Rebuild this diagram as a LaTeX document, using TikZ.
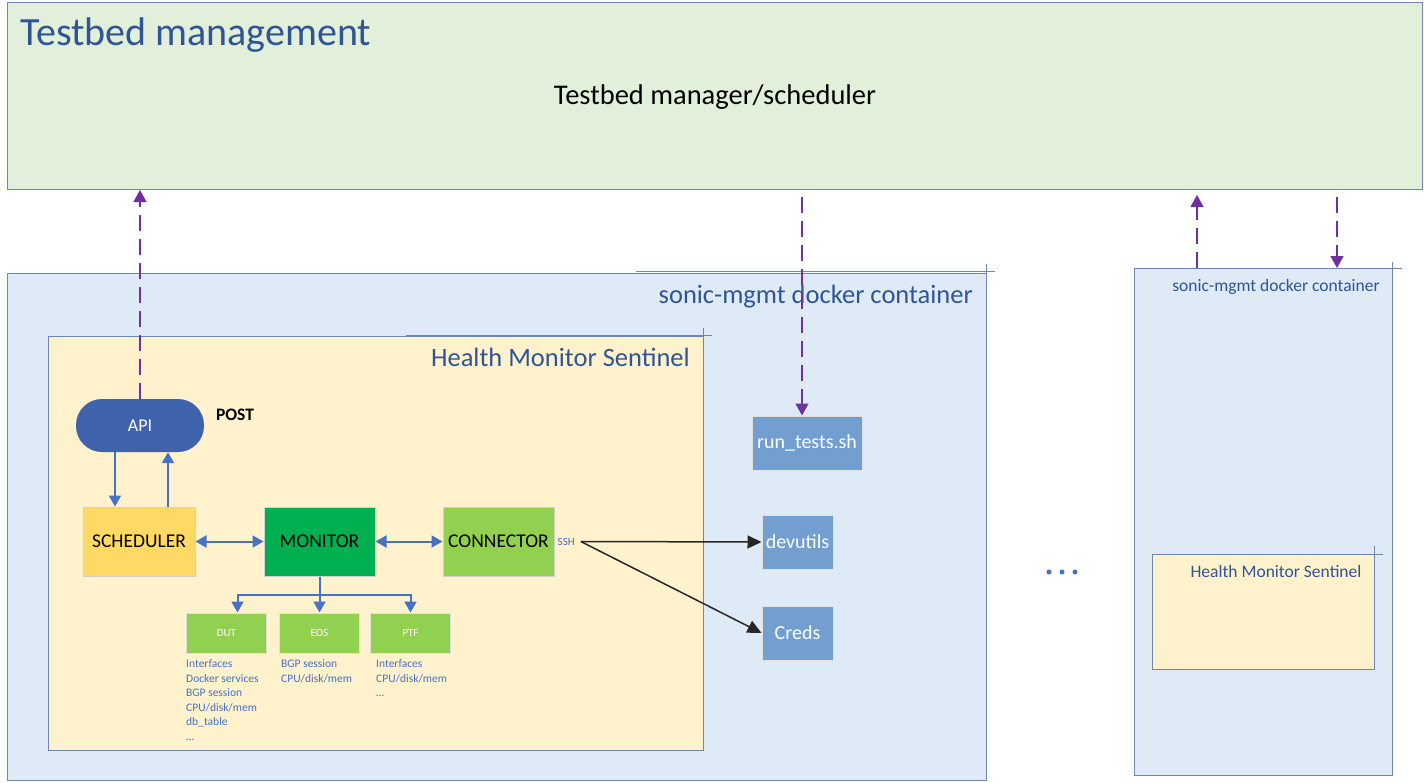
\documentclass[tikz,border=0pt]{standalone}
\usepackage{fontspec}
\setmainfont{Carlito}
\usepackage{tikz}
\usetikzlibrary{positioning,arrows.meta}
\usepackage{xcolor}
\definecolor{tbgreen}{HTML}{E2EFDA}
\definecolor{boxblue}{HTML}{DEEBF7}
\definecolor{hmsyellow}{HTML}{FFF2CC}
\definecolor{framecol}{HTML}{7086B2}
\definecolor{titleblue}{HTML}{2F5597}
\definecolor{apiblue}{HTML}{3E62AC}
\definecolor{linkblue}{HTML}{4472C4}
\definecolor{schedyellow}{HTML}{FFD966}
\definecolor{mongreen}{HTML}{00B050}
\definecolor{conngreen}{HTML}{92D050}
\definecolor{toolblue}{HTML}{729FCF}
\definecolor{reqpurple}{HTML}{7030A0}

\begin{document}
\begin{tikzpicture}[x=1pt,y=-1pt,
% styles
frame/.style={rectangle, draw=framecol, line width=1pt, anchor=north west, inner sep=0pt},
boxtitle/.style={text=titleblue, inner sep=0pt},
block/.style={rectangle, draw=black!18, line width=1pt, minimum width=111pt, minimum height=69pt, inner sep=0pt, font=\fontsize{19.5}{21}\selectfont},
probe/.style={rectangle, fill=conngreen, draw=black!12, line width=1pt, minimum width=80pt, minimum height=40pt, inner sep=0pt, text=white, font=\fontsize{11}{12}\selectfont},
tool/.style={rectangle, fill=toolblue, draw=black!12, line width=1pt, inner sep=0pt, text=white, font=\fontsize{20}{22}\selectfont},
note/.style={align=left, anchor=north west, inner sep=0pt, text=linkblue, font=\fontsize{11.5}{14.5}\selectfont},
link/.style={draw=linkblue, line width=2pt, -{Triangle[length=11pt,width=12pt]}},
twoway/.style={draw=linkblue, line width=2pt, {Triangle[length=11pt,width=12pt]}-{Triangle[length=11pt,width=12pt]}},
request/.style={draw=reqpurple, line width=1.5pt, dash pattern=on 16pt off 8pt, -{Triangle[length=12pt,width=13pt]}},
sshlink/.style={draw=black!85, line width=1.5pt, -{Triangle[length=14pt,width=13pt]}},
]
\useasboundingbox (0,0) rectangle (1424,782);
\fill[white] (0,0) rectangle (1424,782);

%Testbed management
\node[frame, fill=tbgreen, minimum width=1415pt, minimum height=187pt] (tbm) at (7,2) {};
\node[boxtitle, anchor=base west, font=\fontsize{40}{42}\selectfont] (tbmtitle) at (20,45) {Testbed management};
\node[anchor=base, inner sep=0pt, font=\fontsize{28.5}{30}\selectfont] (sched) at (715,104) {Testbed manager/scheduler};

%Containers
\node[frame, fill=boxblue, minimum width=979pt, minimum height=507pt] (dock) at (7,273) {};
\draw[framecol, line width=1pt] (636,271) -- (995,271) (986,264) -- (986,273);
\node[boxtitle, anchor=base east, font=\fontsize{26.5}{28}\selectfont] (docktitle) at (973,303) {sonic-mgmt docker container};
\node[frame, fill=hmsyellow, minimum width=655pt, minimum height=414pt] (hms) at (48,336) {};
\draw[framecol, line width=1pt] (406,335) -- (712,335) (703,328) -- (703,380);
\node[boxtitle, anchor=base east, font=\fontsize{26.5}{28}\selectfont] (hmstitle) at (690,366) {Health Monitor Sentinel};

\node[frame, fill=boxblue, minimum width=258pt, minimum height=507pt] (dock2) at (1134,268) {};
\draw[framecol, line width=1pt] (1150,268) -- (1402,268) (1392,262) -- (1392,268);
\node[boxtitle, anchor=base, font=\fontsize{17.5}{19}\selectfont] (dock2title) at (1276,291) {sonic-mgmt docker container};
\node[frame, fill=hmsyellow, minimum width=222pt, minimum height=115pt] (hms2) at (1152,554) {};
\draw[framecol, line width=1pt] (1168,554) -- (1383,554) (1374,546) -- (1374,580);
\node[boxtitle, anchor=base, font=\fontsize{17.5}{19}\selectfont] (hms2title) at (1276,577) {Health Monitor Sentinel};
\foreach \x in {1049,1062,1075} \fill[linkblue] (\x,572) circle (2.5pt);

%Nodes
\node[rectangle, rounded corners=26pt, fill=apiblue, minimum width=128pt, minimum height=53pt, text=white, font=\fontsize{18}{20}\selectfont] (api) at (140,425.5) {API};
\node[inner sep=0pt, font=\fontsize{17.5}{19}\bfseries] (post) at (235,415) {POST};
\node[block, fill=schedyellow, minimum width=112pt] (schd) at (139,541.5) {SCHEDULER};
\node[block, fill=mongreen] (mon) [right=68pt of schd] {MONITOR};
\node[block, fill=conngreen] (conn) [right=67pt of mon] {CONNECTOR};
\node[probe] (eos) [below=36pt of mon] {EOS};
\node[probe] (dut) [left=12pt of eos] {DUT};
\node[probe] (ptf) [right=10pt of eos] {PTF};
\node[note] (dutnote) at ([yshift=-6pt]dut.south west) {Interfaces\\Docker services\\BGP session\\CPU/disk/mem\\db\_table\\\dots};
\node[note] (eosnote) at ([xshift=2pt,yshift=-6pt]eos.south west) {BGP session\\CPU/disk/mem};
\node[note] (ptfnote) at ([xshift=6pt,yshift=-6pt]ptf.south west) {Interfaces\\CPU/disk/mem\\\dots};
\node[anchor=west, inner sep=0pt, text=linkblue, font=\fontsize{11}{12}\selectfont] (ssh) [right=3pt of conn] {SSH};
\node[tool, minimum width=110pt, minimum height=54pt] (run) at (807,443) {run\_tests.sh};
\node[tool, minimum width=71pt, minimum height=54pt] (dev) at (797.5,542) {devutils};
\node[tool, minimum width=71pt, minimum height=54pt] (creds) [below=36pt of dev] {Creds};

%Lines
\draw[link] ([xshift=-25pt]api.south) -- ([xshift=-25pt]api.south |- schd.north);
\draw[link] ([xshift=29pt]schd.north) -- ([xshift=29pt]schd.north |- api.south);
\draw[twoway] (schd.east) -- (mon.west);
\draw[twoway] (mon.east) -- (conn.west);
\coordinate (fork) at (318,595);
\draw[draw=linkblue, line width=2pt] (mon.south) -- (mon.south |- fork);
\draw[link] (mon.south |- fork) -| ([xshift=11pt]dut.north);
\draw[link] (mon.south |- fork) -| (ptf.north);
\draw[link] (mon.south |- fork) -- (eos.north);
\draw[sshlink] (ssh.east) ++(6pt,0) coordinate (sshend) -- (dev.west);
\draw[sshlink] (sshend) -- (creds.west);

% requests to and from the manager
\draw[request] (api.north) -- (api.north |- tbm.south);
\coordinate (runtop) at (802,197);
\draw[request] (runtop) -- (runtop |- run.north);
\coordinate (up2) at (1197,195);
\draw[request] (up2 |- dock2.north) -- (up2);
\coordinate (dn2) at (1337,197);
\draw[request] (dn2) -- (dn2 |- dock2.north);

\end{tikzpicture}
\end{document}
